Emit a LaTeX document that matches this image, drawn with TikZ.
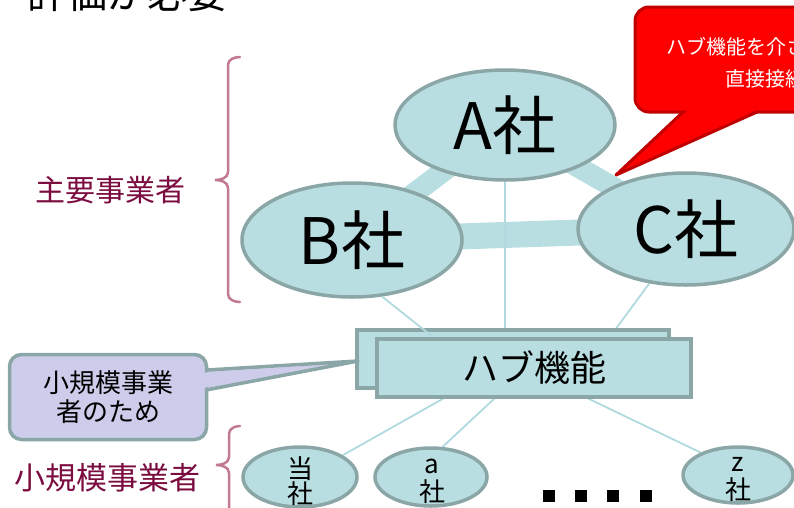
\documentclass[tikz,border=0pt]{standalone}
\usepackage{fontspec}
\setmainfont{Noto Sans CJK JP}
\usetikzlibrary{shapes.geometric}
\definecolor{cfill}{HTML}{B8DEE1}
\definecolor{cedge}{HTML}{8BA6A6}
\definecolor{cthin}{HTML}{B0DADD}
\definecolor{cpurple}{HTML}{CDCDEB}
\definecolor{cbrace}{HTML}{C27A92}
\definecolor{clabel}{HTML}{7B0C3F}
\definecolor{credge}{HTML}{C00000}
\newcommand{\myfs}[2]{\fontsize{#1}{#2}\selectfont}
\pgfdeclarelayer{bg}
\pgfsetlayers{bg,main}
\begin{document}
\begin{tikzpicture}[x=1pt,y=-1pt,
  co/.style={ellipse,draw=cedge,fill=cfill,line width=3.5pt,inner sep=0pt},
  thicklink/.style={cfill,line width=#1},
  thinlink/.style={cthin,line width=1.8pt},
  hubbox/.style={draw=cedge,fill=cfill,line width=3.5pt,inner sep=0pt},
  bracestyle/.style={cbrace,line width=2.5pt,line cap=round},
  grouplabel/.style={text=clabel,inner sep=0pt},
]
\useasboundingbox (0,0) rectangle (794,507);
\clip (0,0) rectangle (794,507);

% title (cut off at the top)
\node[anchor=base west,inner sep=0pt,font=\myfs{40}{44}] (title) at (27,8) {評価が必要};

% major companies
\node[co,minimum width=220pt,minimum height=110pt,font=\myfs{64}{70}] (A) at (505,125) {A社};
\node[co,minimum width=220pt,minimum height=114pt,font=\myfs{64}{70}] (B) at (352,240) {B社};
\node[co,minimum width=216pt,minimum height=112pt,font=\myfs{64}{70}] (C) at (686,229) {C社};

% hub
\node[hubbox,minimum width=312pt,minimum height=58pt] (hubback) at (513,359) {};
\coordinate (bend) at (438,341);
\draw[thinlink] (B.-62) -- (bend);
\node[hubbox,minimum width=314pt,minimum height=58pt,font=\myfs{36}{40}] (hub) at (534,368) {ハブ機能};

% small companies
\node[co,minimum width=114pt,minimum height=60pt] (tou) at (300,477) {};
\node[align=center,inner sep=0pt,font=\myfs{26}{25}] (toutext) at (300,481) {当\\社};
\node[co,minimum width=112pt,minimum height=58pt] (a) at (431,477) {};
\node[align=center,inner sep=0pt,font=\myfs{26}{28}] (atext) at (432,481) {a\\社};
\node[co,minimum width=110pt,minimum height=56pt] (z) at (738,475) {};
\node[align=center,inner sep=0pt,font=\myfs{26}{28}] (ztext) at (738,479) {z\\社};

\coordinate (h1) at (446,397);
\coordinate (h2) at (496,397);
\coordinate (h3) at (585,397);
\coordinate (cend) at (612,334);

\begin{pgfonlayer}{bg}
  \draw[thicklink=21pt] (A.center) -- (B.center);
  \draw[thicklink=21pt] (A.center) -- (C.center);
  \draw[thicklink=26pt] (B.center) -- (C.center);
  \draw[thinlink] (A.south) -- (A.south |- hubback.north);
  \draw[thinlink] (C.-124) -- (cend);
  \draw[thinlink] (h1) -- (tou.27);
  \draw[thinlink] (h2) -- (a.69);
  \draw[thinlink] (h3) -- (z.149);
\end{pgfonlayer}

% dots
\foreach \dx in {543,575,607,640}{
  \fill (\dx,490) rectangle +(12,12);
}

% braces and group labels
\draw[bracestyle] (240,57) to[out=180,in=90] (228,65) -- (228,172)
  to[out=-90,in=0] (215,180) to[out=0,in=90] (228,188) -- (228,294)
  to[out=-90,in=180] (240,302);
\node[grouplabel,font=\myfs{30}{34}] (major) at (110,190) {主要事業者};
\draw[bracestyle] (240,426) to[out=180,in=90] (229,434) -- (229,457)
  to[out=-90,in=0] (216,465) to[out=0,in=90] (229,473) -- (229,520);
\node[grouplabel,font=\myfs{31}{34}] (minor) at (107,478) {小規模事業者};

% purple callout
\draw[draw=cedge,fill=cpurple,line width=3.5pt,line join=round] (207,370) -- (358,361) -- (206,390);
\node[draw=cedge,fill=cpurple,line width=3.5pt,rounded corners=12pt,
      minimum width=197pt,minimum height=85pt,align=center,font=\myfs{26}{29}] (pc) at (108,397) {小規模事業\\者のため};
\fill[cpurple] (198,373) -- (300,366.3) -- (300,370) -- (198,389) -- cycle;

% red callout
\draw[draw=credge,fill=red,line width=3pt,line join=round] (683,112) -- (616,175) -- (757,112);
\node[draw=credge,fill=red,line width=3pt,rounded corners=14pt,
      minimum width=265pt,minimum height=105pt] (rc) at (767.5,59.5) {};
\fill[red] (694.5,104) -- (770,104) -- (723,125) -- (672,125) -- cycle;
\node[anchor=west,inner sep=0pt,text=white,font=\myfs{20}{24}] (r1) at (666,47) {ハブ機能を介さず};
\node[anchor=west,inner sep=0pt,text=white,font=\myfs{20}{24}] (r2) at (725,79) {直接接続};
\end{tikzpicture}
\end{document}
